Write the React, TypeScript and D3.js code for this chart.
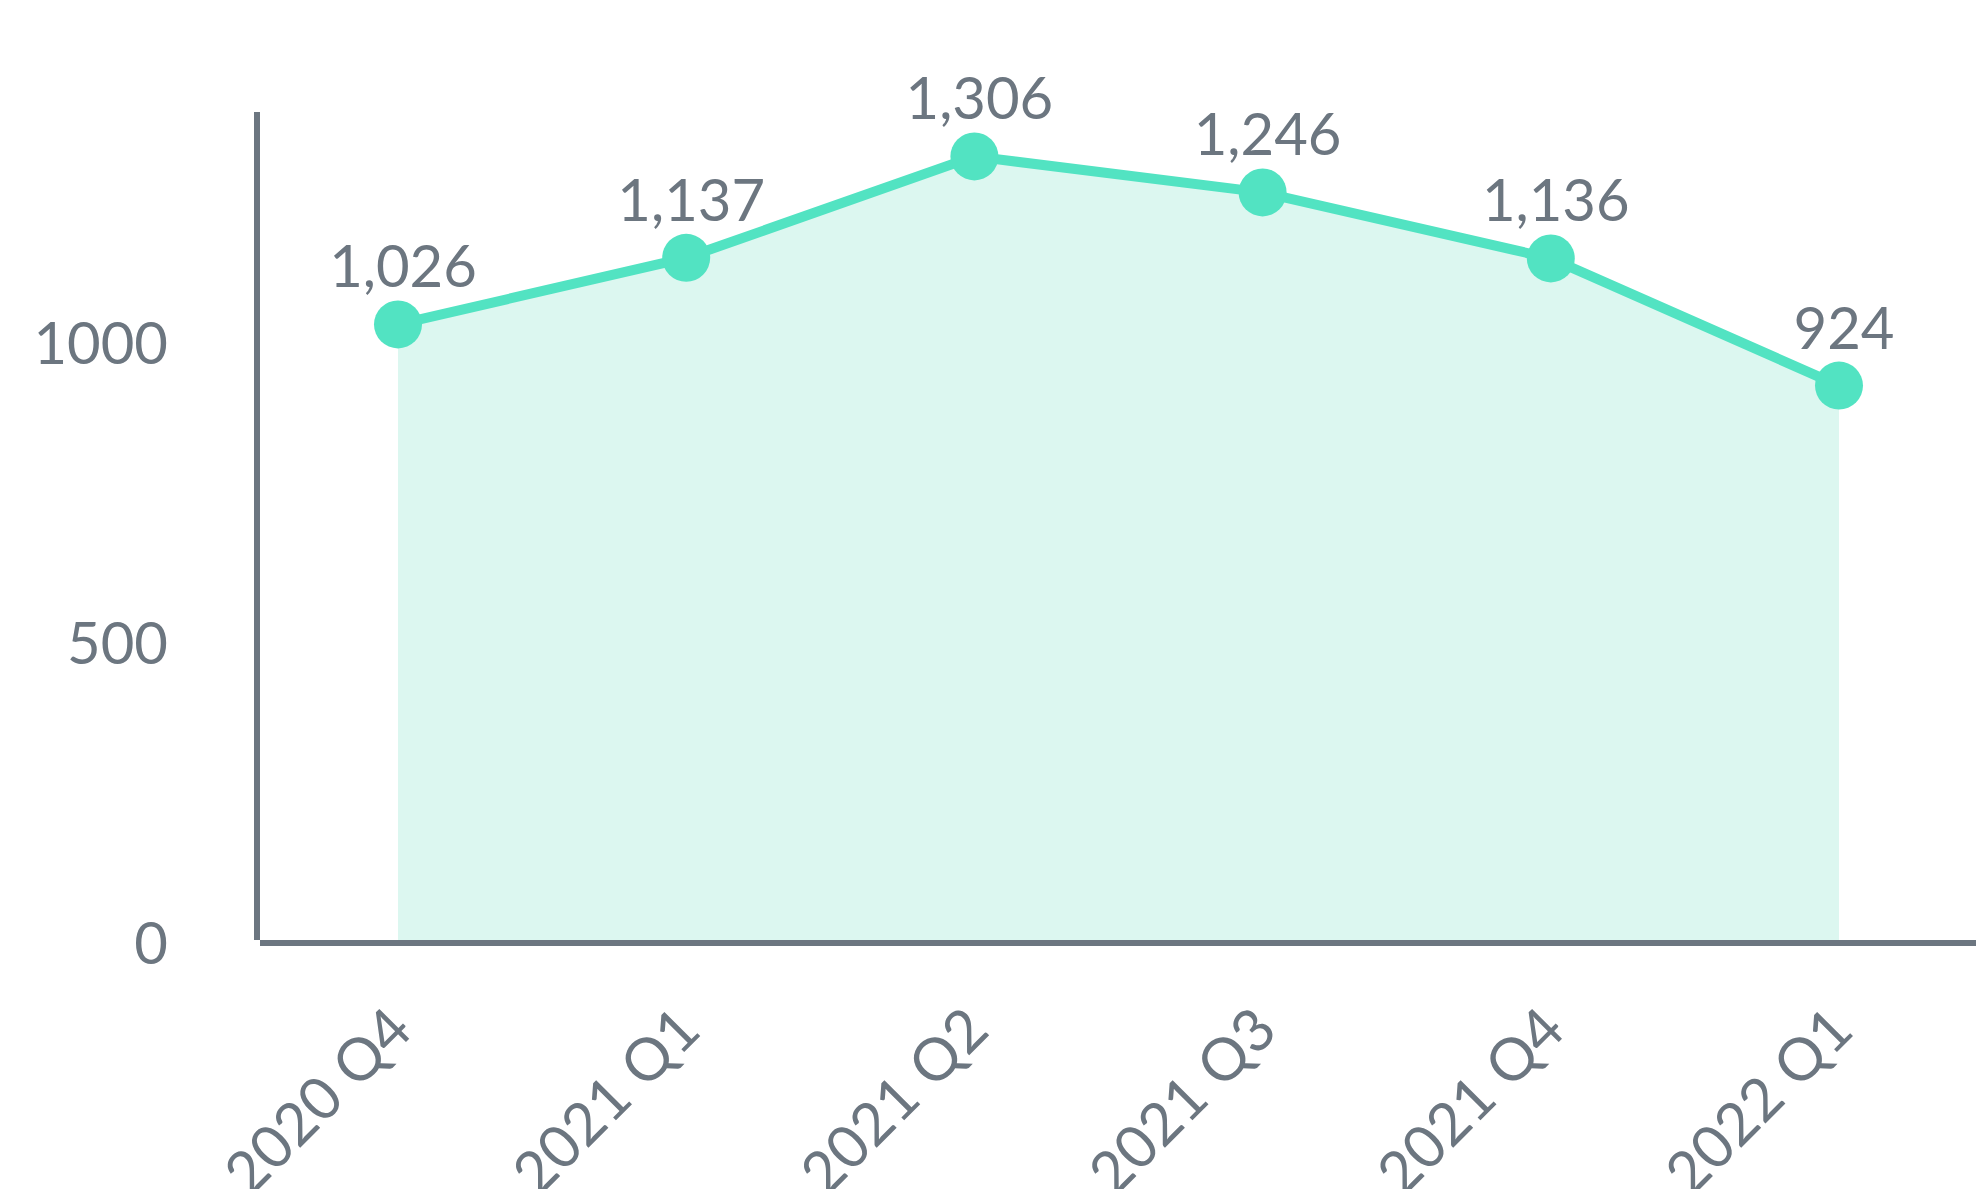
import { useEffect, useRef } from 'react';
import * as d3 from 'd3';

const quarters = ['2020 Q4', '2021 Q1', '2021 Q2', '2021 Q3', '2021 Q4', '2022 Q1'];
const values = [1026, 1137, 1306, 1246, 1136, 924];
const yTicks = [0, 500, 1000];

const WIDTH = 1976;
const HEIGHT = 1189;
const GRAY = '#6c7680';
const TEAL = '#52e3c2';
const FILL = '#dcf7f0';
const FONT = 'Lato, "Open Sans", sans-serif';

export default function App() {
  const svgRef = useRef<SVGSVGElement>(null);

  useEffect(() => {
    document.body.style.margin = '0';
    if (!svgRef.current) return;

    const svg = d3.select(svgRef.current);
    svg.selectAll('*').remove();

    const x = d3.scalePoint<string>().domain(quarters).range([398, 1839]);
    const y = d3.scaleLinear().domain([0, 1380]).range([940, 112]);

    const pts = quarters.map((q, i) => ({ q, v: values[i] }));

    // filled area under the line
    const area = d3.area<{ q: string; v: number }>()
      .x(d => x(d.q)!)
      .y0(y(0))
      .y1(d => y(d.v));
    svg.append('path').attr('d', area(pts) || '').attr('fill', FILL);

    // axes
    svg.append('line')
      .attr('x1', 257).attr('x2', 257)
      .attr('y1', y.range()[1]).attr('y2', y(0))
      .attr('stroke', GRAY).attr('stroke-width', 6);
    svg.append('line')
      .attr('x1', 260).attr('x2', WIDTH)
      .attr('y1', y(0) + 3).attr('y2', y(0) + 3)
      .attr('stroke', GRAY).attr('stroke-width', 6);

    // y tick labels
    yTicks.forEach(t => {
      svg.append('text')
        .attr('x', 168)
        .attr('y', y(t) + 9)
        .attr('text-anchor', 'end')
        .attr('dominant-baseline', 'middle')
        .attr('fill', GRAY)
        .attr('font-size', '58px')
        .attr('font-family', FONT)
        .text(String(t));
    });

    // x tick labels, rotated
    quarters.forEach(q => {
      const ax = x(q)! + 17;
      const ay = 1033;
      svg.append('text')
        .attr('transform', `translate(${ax}, ${ay}) rotate(-45)`)
        .attr('text-anchor', 'end')
        .attr('fill', GRAY)
        .attr('font-size', '59px')
        .attr('font-family', FONT)
        .text(q);
    });

    // line
    const line = d3.line<{ q: string; v: number }>()
      .x(d => x(d.q)!)
      .y(d => y(d.v));
    svg.append('path')
      .attr('d', line(pts) || '')
      .attr('fill', 'none')
      .attr('stroke', TEAL)
      .attr('stroke-width', 10)
      .attr('stroke-linejoin', 'round');

    // dots
    pts.forEach(d => {
      svg.append('circle')
        .attr('cx', x(d.q)!)
        .attr('cy', y(d.v))
        .attr('r', 24)
        .attr('fill', TEAL);
    });

    // value labels
    const fmt = d3.format(',');
    pts.forEach(d => {
      svg.append('text')
        .attr('x', x(d.q)! + 5)
        .attr('y', y(d.v) - 37)
        .attr('text-anchor', 'middle')
        .attr('fill', GRAY)
        .attr('font-size', '58px')
        .attr('font-family', FONT)
        .text(fmt(d.v));
    });
  }, []);

  return (
    <svg
      ref={svgRef}
      width={WIDTH}
      height={HEIGHT}
      viewBox={`0 0 ${WIDTH} ${HEIGHT}`}
      style={{ display: 'block', background: '#ffffff' }}
    />
  );
}
